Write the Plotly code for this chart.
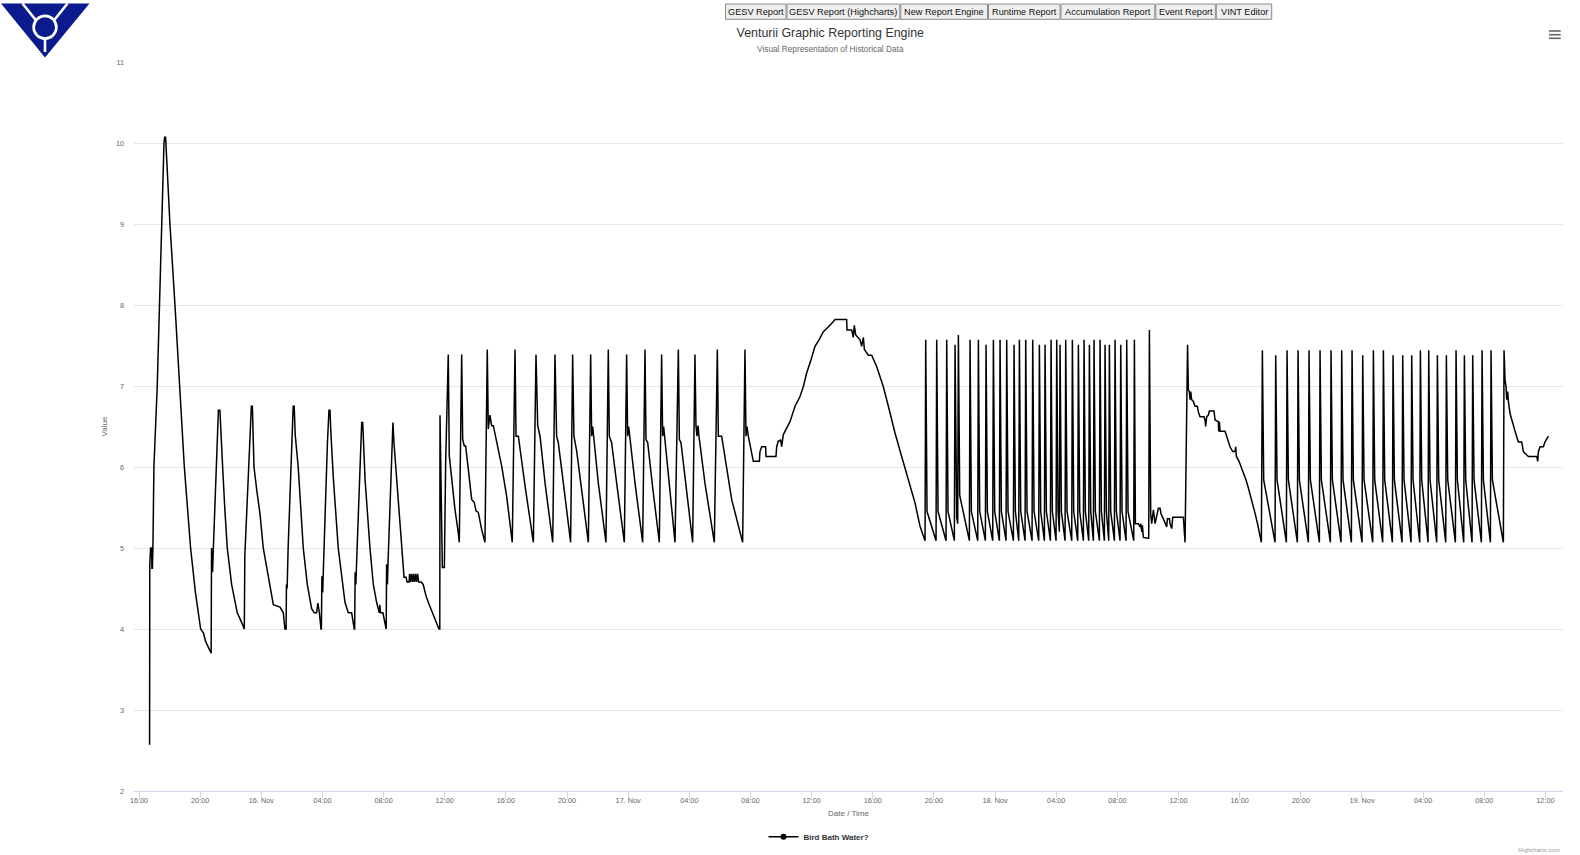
import pandas as pd
import plotly.graph_objects as go

# ---------------- data (hours after 2019-11-15 16:00, value) ----------------
START = "2019-11-15 16:00"

seg_nov15 = [
    (0.692, 2.57), (0.705, 4.8), (0.758, 5.0), (0.824, 5.0), (0.844, 4.75), (0.877, 4.75),
    (0.910, 5.0), (0.976, 6.0), (1.193, 7.0), (1.325, 8.0), (1.477, 9.0), (1.635, 10.0),
    (1.674, 10.07), (1.740, 10.07), (1.760, 10.0), (2.024, 9.0), (2.353, 8.0), (2.676, 7.0),
    (2.966, 6.0), (3.375, 5.0), (3.692, 4.45), (4.034, 4.0), (4.219, 3.95), (4.351, 3.85),
    (4.516, 3.78), (4.614, 3.74), (4.707, 3.7),
    (4.720, 3.7), (4.746, 5.0), (4.812, 4.7), (4.865, 5.0), (4.977, 5.6), (5.076, 6.2),
    (5.194, 6.7), (5.293, 6.7), (5.373, 6.45), (5.471, 6.0), (5.623, 5.45), (5.775, 5.0),
    (6.058, 4.55), (6.427, 4.2), (6.671, 4.1), (6.862, 4.0),
    (6.889, 4.0), (6.922, 4.9), (6.988, 5.2), (7.119, 5.8), (7.251, 6.5), (7.350, 6.75),
    (7.416, 6.75), (7.482, 6.4), (7.522, 6.0), (7.713, 5.7), (7.910, 5.43), (8.128, 5.0),
    (8.570, 4.55), (8.787, 4.3), (9.222, 4.27), (9.440, 4.2), (9.545, 4.0),
    (9.624, 4.0), (9.644, 4.55), (9.690, 4.5), (9.756, 5.0), (9.888, 5.8), (10.020, 6.6),
    (10.086, 6.75), (10.152, 6.75), (10.218, 6.4), (10.415, 6.0), (10.745, 5.0), (11.009, 4.55),
    (11.292, 4.25), (11.470, 4.2), (11.622, 4.2), (11.701, 4.32), (11.800, 4.2), (11.905, 4.0),
    (11.931, 4.0), (11.964, 4.65), (12.017, 4.45), (12.063, 4.75), (12.195, 5.6), (12.327, 6.3),
    (12.426, 6.7), (12.492, 6.7), (12.558, 6.4), (12.710, 5.87), (13.033, 5.0), (13.316, 4.55),
    (13.474, 4.33), (13.692, 4.2), (13.909, 4.2), (14.081, 4.0),
    (14.107, 4.0), (14.140, 4.7), (14.186, 4.55), (14.239, 4.85), (14.371, 5.6), (14.502, 6.3),
    (14.568, 6.55), (14.634, 6.55), (14.700, 6.3), (14.786, 5.85), (15.109, 5.0), (15.327, 4.55),
    (15.544, 4.33), (15.716, 4.2), (15.755, 4.3), (15.795, 4.2), (15.953, 4.2), (16.151, 4.0),
    (16.170, 4.0), (16.197, 4.8), (16.250, 4.55), (16.296, 4.85), (16.414, 5.6), (16.546, 6.4),
    (16.612, 6.55), (16.678, 6.3), (16.849, 5.87), (17.179, 5.0), (17.271, 4.75), (17.337, 4.64),
    (17.469, 4.64), (17.535, 4.58), (17.667, 4.58), (17.700, 4.68), (17.766, 4.58), (17.832, 4.68),
    (17.898, 4.58), (17.964, 4.68), (18.029, 4.58), (18.095, 4.68), (18.161, 4.58), (18.227, 4.68),
    (18.293, 4.58), (18.458, 4.58), (18.589, 4.55), (18.787, 4.4), (18.985, 4.3), (19.183, 4.2),
    (19.380, 4.12), (19.512, 4.05), (19.624, 4.0),
]

seg_nov16 = [
    (19.677, 4.0), (19.690, 6.64), (19.842, 4.76), (19.974, 4.76), (20.060, 6.05), (20.231, 7.39),
    (20.297, 6.14), (20.449, 5.85), (20.667, 5.48), (20.885, 5.19), (20.951, 5.07),
    (21.108, 7.39), (21.174, 6.34), (21.280, 6.26), (21.366, 6.26), (21.543, 5.97), (21.761, 5.6),
    (21.932, 5.56), (22.044, 5.46), (22.196, 5.44), (22.413, 5.23), (22.631, 5.07),
    (22.782, 7.45), (22.848, 6.47), (22.960, 6.64), (23.066, 6.51), (23.178, 6.51), (23.725, 6.01),
    (24.048, 5.64), (24.417, 5.07),
    (24.597, 7.45), (24.663, 6.38), (24.815, 6.38), (25.250, 5.77), (25.797, 5.07),
    (25.969, 7.39), (26.081, 6.51), (26.233, 6.38), (26.562, 5.8), (27.063, 5.07),
    (27.212, 7.39), (27.317, 6.38), (27.429, 6.3), (27.759, 5.8), (28.234, 5.07),
    (28.366, 7.39), (28.451, 6.38), (28.629, 6.2), (28.952, 5.7), (29.394, 5.07),
    (29.545, 7.39), (29.611, 6.38), (29.677, 6.5), (29.743, 6.38), (30.047, 5.8), (30.548, 5.07),
    (30.699, 7.45), (30.765, 6.38), (30.917, 6.3), (31.246, 5.8), (31.747, 5.07),
    (31.899, 7.39), (31.965, 6.38), (32.031, 6.5), (32.097, 6.38), (32.446, 5.8), (32.947, 5.07),
    (33.099, 7.45), (33.165, 6.34), (33.277, 6.3), (33.600, 5.75), (34.035, 5.07),
    (34.187, 7.39), (34.253, 6.38), (34.319, 6.5), (34.385, 6.38), (34.734, 5.7), (35.063, 5.07),
    (35.281, 7.45), (35.347, 6.34), (35.453, 6.3), (35.782, 5.75), (36.217, 5.07),
    (36.368, 7.39), (36.434, 6.51), (36.500, 6.38), (36.566, 6.51), (36.632, 6.38), (37.021, 5.8),
    (37.634, 5.07),
    (37.832, 7.45), (37.898, 6.38), (38.115, 6.38), (38.768, 5.6), (39.487, 5.07),
]

seg_nov17_day = [
    (39.639, 7.45), (39.705, 6.38), (39.771, 6.5), (39.857, 6.38), (40.185, 6.07), (40.581, 6.07),
    (40.620, 6.19), (40.732, 6.25), (40.989, 6.25), (41.015, 6.13), (41.668, 6.13), (41.714, 6.25),
    (41.819, 6.32), (41.931, 6.32), (41.971, 6.34), (42.037, 6.25), (42.149, 6.4), (42.255, 6.44),
    (42.585, 6.56), (42.914, 6.75), (43.238, 6.87), (43.455, 6.99), (43.673, 7.16), (43.956, 7.32),
    (44.220, 7.49), (44.484, 7.57), (44.767, 7.67), (45.202, 7.75), (45.532, 7.82), (46.290, 7.82),
    (46.316, 7.69), (46.620, 7.69), (46.725, 7.6), (46.791, 7.75), (46.883, 7.63), (47.166, 7.57),
    (47.272, 7.49), (47.384, 7.6), (47.450, 7.45), (47.707, 7.38), (47.925, 7.38), (48.254, 7.24),
    (48.689, 6.99), (49.019, 6.75), (49.454, 6.42), (49.889, 6.13), (50.324, 5.84), (50.758, 5.56),
    (51.088, 5.27), (51.418, 5.09),
]

seg_nov17_night = [
    (51.462, 7.57), (51.549, 5.45),
    (52.138, 5.09), (52.182, 7.57), (52.269, 5.45),
    (52.792, 5.09), (52.836, 7.57), (52.923, 5.45),
    (53.337, 5.09), (53.381, 7.51), (53.490, 5.38), (53.555, 5.3),
    (53.599, 7.63), (53.686, 5.65),
    (54.319, 5.09), (54.362, 7.57), (54.449, 5.45),
    (54.864, 5.09), (54.907, 7.57), (54.995, 5.45),
    (55.365, 5.09), (55.409, 7.51), (55.496, 5.45),
    (55.845, 5.09), (55.889, 7.57), (55.976, 5.45),
    (56.281, 5.09), (56.325, 7.57), (56.412, 5.45),
    (56.717, 5.09), (56.761, 7.57), (56.848, 5.45),
    (57.197, 5.09), (57.241, 7.51), (57.328, 5.45),
    (57.546, 5.09), (57.590, 7.57), (57.677, 5.45),
    (57.960, 5.09), (58.004, 7.57), (58.091, 5.45),
    (58.418, 5.09), (58.462, 7.57), (58.549, 5.45),
    (58.854, 5.09), (58.898, 7.51), (58.985, 5.45),
    (59.225, 5.09), (59.269, 7.51), (59.356, 5.45),
    (59.618, 5.09), (59.661, 7.57), (59.748, 5.45),
    (59.988, 5.09), (60.032, 7.57), (60.119, 5.45),
    (60.206, 5.2), (60.250, 7.51), (60.337, 5.45),
    (60.577, 5.09), (60.621, 7.57), (60.708, 5.45),
    (61.013, 5.09), (61.057, 7.57), (61.144, 5.45),
    (61.406, 5.09), (61.449, 7.51), (61.536, 5.45),
    (61.776, 5.09), (61.820, 7.57), (61.907, 5.45),
    (62.125, 5.09), (62.169, 7.51), (62.256, 5.45),
    (62.430, 5.09), (62.474, 7.57), (62.561, 5.45),
    (62.823, 5.09), (62.867, 7.57), (62.954, 5.45),
    (63.150, 5.09), (63.194, 7.51), (63.281, 5.45),
    (63.434, 5.09), (63.477, 7.51), (63.564, 5.45),
    (63.804, 5.09), (63.848, 7.57), (63.935, 5.45),
    (64.175, 5.09), (64.219, 7.51), (64.306, 5.45),
    (64.567, 5.09), (64.611, 7.57), (64.698, 5.45),
    (65.069, 5.09), (65.113, 7.57), (65.178, 5.3), (65.374, 5.3), (65.483, 5.26), (65.527, 5.3),
    (65.592, 5.2), (65.636, 5.28), (65.701, 5.13), (66.028, 5.12),
    (66.050, 5.12), (66.094, 7.69), (66.181, 5.42), (66.246, 5.3), (66.356, 5.47), (66.465, 5.3),
    (66.574, 5.42), (66.683, 5.49), (66.792, 5.49), (66.857, 5.42), (67.010, 5.36), (67.119, 5.3),
    (67.228, 5.26), (67.272, 5.36), (67.403, 5.36), (67.446, 5.3), (67.555, 5.24), (67.620, 5.38),
    (68.318, 5.38), (68.427, 5.07),
    (68.590, 7.51),
]

seg_nov18_19 = [
    (68.644, 6.95), (68.709, 6.93), (68.753, 6.83), (68.796, 6.93), (68.862, 6.83), (68.971, 6.81),
    (69.080, 6.75), (69.232, 6.75), (69.298, 6.68), (69.407, 6.62), (69.668, 6.62), (69.734, 6.58),
    (69.777, 6.5), (69.843, 6.62), (69.952, 6.64), (70.017, 6.69), (70.323, 6.69), (70.388, 6.58),
    (70.606, 6.56), (70.628, 6.44), (70.672, 6.56), (70.715, 6.44), (71.042, 6.44), (71.151, 6.38),
    (71.260, 6.31), (71.369, 6.25), (71.544, 6.19), (71.697, 6.19), (71.740, 6.25), (71.784, 6.13),
    (71.958, 6.07), (72.132, 5.99), (72.242, 5.92), (72.416, 5.84), (72.569, 5.74), (72.787, 5.6),
    (73.005, 5.43), (73.179, 5.29), (73.332, 5.14), (73.419, 5.07),
    (73.484, 7.44), (73.572, 5.84),
    (74.313, 5.07), (74.357, 7.38), (74.444, 5.84),
    (75.054, 5.07), (75.098, 7.44), (75.185, 5.84),
    (75.774, 5.07), (75.818, 7.44), (75.905, 5.84),
    (76.494, 5.07), (76.537, 7.44), (76.624, 5.84),
    (77.213, 5.07), (77.257, 7.44), (77.344, 5.84),
    (77.933, 5.07), (77.976, 7.44), (78.064, 5.84),
    (78.631, 5.07), (78.674, 7.44), (78.761, 5.84),
    (79.307, 5.07), (79.350, 7.44), (79.437, 5.84),
    (80.004, 5.07), (80.048, 7.38), (80.135, 5.84),
    (80.702, 5.07), (80.746, 7.44), (80.833, 5.84),
    (81.356, 5.07), (81.400, 7.44), (81.487, 5.84),
    (81.989, 5.07), (82.032, 7.38), (82.120, 5.84),
    (82.621, 5.07), (82.665, 7.38), (82.752, 5.84),
    (83.210, 5.07), (83.254, 7.38), (83.341, 5.84),
    (83.777, 5.07), (83.821, 7.44), (83.908, 5.84),
    (84.322, 5.07), (84.366, 7.44), (84.453, 5.84),
    (84.889, 5.07), (84.933, 7.38), (85.020, 5.84),
    (85.478, 5.07), (85.521, 7.38), (85.609, 5.84),
    (86.110, 5.07), (86.154, 7.44), (86.241, 5.84),
    (86.655, 5.07), (86.699, 7.38), (86.786, 5.84),
    (87.200, 5.07), (87.244, 7.38), (87.331, 5.84),
    (87.811, 5.07), (87.855, 7.44), (87.942, 5.84),
    (88.400, 5.07), (88.443, 7.44), (88.531, 5.84),
    (89.250, 5.07), (89.294, 7.44),
    (89.359, 7.07), (89.424, 6.99), (89.468, 6.83), (89.533, 6.93), (89.577, 6.81), (89.686, 6.66),
    (89.904, 6.5), (90.079, 6.4), (90.231, 6.31), (90.449, 6.31), (90.558, 6.19), (90.885, 6.13),
    (91.431, 6.13), (91.496, 6.07), (91.540, 6.19), (91.649, 6.25), (91.867, 6.25), (91.976, 6.31),
    (92.194, 6.38),
]

series_name = "Bird Bath Water?"
x_tick_labels = ["16:00", "20:00", "16. Nov", "04:00", "08:00", "12:00", "16:00", "20:00",
                 "17. Nov", "04:00", "08:00", "12:00", "16:00", "20:00", "18. Nov", "04:00",
                 "08:00", "12:00", "16:00", "20:00", "19. Nov", "04:00", "08:00", "12:00"]
y_tick_values = [2, 3, 4, 5, 6, 7, 8, 9, 10, 11]
menu_buttons = ["GESV Report", "GESV Report (Highcharts)", "New Report Engine", "Runtime Report",
                "Accumulation Report", "Event Report", "VINT Editor"]
title_text = "Venturii Graphic Reporting Engine"
subtitle_text = "Visual Representation of Historical Data"

# ---------------- layout geometry ----------------
W, H = 1580, 855
ML, MR, MT, MB = 134, 17, 62, 64
PW, PH = W - ML - MR, H - MT - MB


def px(x):
    return (x - ML) / PW


def py(y):
    return 1 - (y - MT) / PH


FONT = "Liberation Sans, Arial, Helvetica, sans-serif"
t0 = pd.Timestamp(START)
segments = [seg_nov15, seg_nov16, seg_nov17_day, seg_nov17_night, seg_nov18_19]
hours = [p[0] for s in segments for p in s]
values = [p[1] for s in segments for p in s]
times = t0 + pd.to_timedelta(hours, unit="h")

fig = go.Figure()
fig.add_trace(go.Scatter(x=times, y=values, mode="lines", name=series_name,
                         line=dict(color="#000000", width=1.5), legendgroup="s",
                         showlegend=False))
fig.add_trace(go.Scatter(x=[None], y=[None], mode="lines+markers", name=series_name,
                         line=dict(color="#000000", width=1.5),
                         marker=dict(symbol="circle", size=6, color="#000000"),
                         legendgroup="s", showlegend=True))

tick_vals = pd.date_range(t0, periods=len(x_tick_labels), freq="4h")

shapes = []
annotations = []

# logo
NAVY = "#0b1a8c"
shapes.append(dict(type="path", xref="paper", yref="paper",
                   path=f"M {px(1)},{py(3.5)} L {px(89.5)},{py(3.5)} L {px(45)},{py(57.5)} Z",
                   fillcolor=NAVY, line=dict(width=0)))
for (xa, ya, xb, yb) in [(22.5, 3.5, 36.5, 21), (67.5, 3.5, 53.5, 21), (45, 39, 45, 52)]:
    shapes.append(dict(type="line", xref="paper", yref="paper", x0=px(xa), y0=py(ya),
                       x1=px(xb), y1=py(yb), line=dict(color="white", width=2.6)))
shapes.append(dict(type="circle", xref="paper", yref="paper", x0=px(45 - 12.7), x1=px(45 + 12.7),
                   y0=py(27.3 - 12.7), y1=py(27.3 + 12.7), fillcolor="white", line=dict(width=0)))
shapes.append(dict(type="circle", xref="paper", yref="paper", x0=px(45 - 10), x1=px(45 + 10),
                   y0=py(27.3 - 10), y1=py(27.3 + 10), fillcolor=NAVY, line=dict(width=0)))

# top menu buttons
edges = [(725.5, 786), (787, 899.8), (900.8, 987.5), (988.5, 1060), (1061, 1154.8),
         (1155.8, 1215.3), (1216.3, 1271.7)]
for label, (a, b) in zip(menu_buttons, edges):
    shapes.append(dict(type="rect", xref="paper", yref="paper", x0=px(a), x1=px(b),
                       y0=py(4), y1=py(19.3), fillcolor="#efefef",
                       line=dict(color="#8a8a8a", width=1)))
    annotations.append(dict(text=label, xref="paper", yref="paper", x=px((a + b) / 2),
                            y=py(12), xanchor="center", yanchor="middle", showarrow=False,
                            font=dict(family="Liberation Sans Narrow, Liberation Sans, Arial, sans-serif",
                                      size=9.2, color="#111111")))

# subtitle
annotations.append(dict(text=subtitle_text, xref="paper", yref="paper", x=px(830.3), y=py(48.6),
                        xanchor="center", yanchor="middle", showarrow=False,
                        font=dict(family=FONT, size=8.3, color="#666666")))
# credits
annotations.append(dict(text="Highcharts.com", xref="paper", yref="paper", x=px(1562), y=py(850),
                        xanchor="right", yanchor="middle", showarrow=False,
                        font=dict(family=FONT, size=6, color="#999999")))
# hamburger menu icon
for yy in (31, 34.7, 38.3):
    shapes.append(dict(type="line", xref="paper", yref="paper", x0=px(1549), x1=px(1560.7),
                       y0=py(yy), y1=py(yy), line=dict(color="#666666", width=1.6)))

fig.update_layout(
    width=W, height=H,
    margin=dict(l=ML, r=MR, t=MT, b=MB, pad=0, autoexpand=False),
    paper_bgcolor="white", plot_bgcolor="white",
    font=dict(family=FONT, color="#666666"),
    title=dict(text=title_text, x=830.3 / W, y=1 - 33 / H, xref="container", yref="container",
               xanchor="center", yanchor="middle",
               font=dict(family=FONT, size=12.4, color="#333333")),
    xaxis=dict(type="date", automargin=False,
               range=[t0 - pd.Timedelta(hours=0.327), t0 + pd.Timedelta(hours=93.15)],
               tickmode="array", tickvals=tick_vals, ticktext=x_tick_labels,
               ticks="outside", ticklen=6, tickwidth=1, tickcolor="#ccd6eb",
               ticklabelstandoff=-4,
               showline=True, linecolor="#ccd6eb", linewidth=1,
               showgrid=False, zeroline=False,
               tickfont=dict(family=FONT, size=7.3, color="#666666"),
               title=dict(text="Date / Time", standoff=6,
                          font=dict(family=FONT, size=8, color="#666666"))),
    yaxis=dict(range=[2, 11], tickmode="array", tickvals=y_tick_values, automargin=False,
               showgrid=True, gridcolor="#e6e6e6", gridwidth=1, zeroline=False,
               showline=False, ticks="", ticklabelstandoff=9,
               tickfont=dict(family=FONT, size=7.3, color="#666666"),
               title=dict(text="Value", standoff=7,
                          font=dict(family=FONT, size=8, color="#666666"))),
    legend=dict(orientation="h", x=px(819), y=py(836.7), xanchor="center", yanchor="middle",
                font=dict(family=FONT, size=8, color="#333333", weight="bold"),
                bgcolor="rgba(0,0,0,0)", itemwidth=30),
    shapes=shapes, annotations=annotations,
    hovermode="x",
)

fig.write_html("out.html", config={"displayModeBar": False},
               post_script="document.body.style.margin='0';document.body.style.overflow='hidden';")
